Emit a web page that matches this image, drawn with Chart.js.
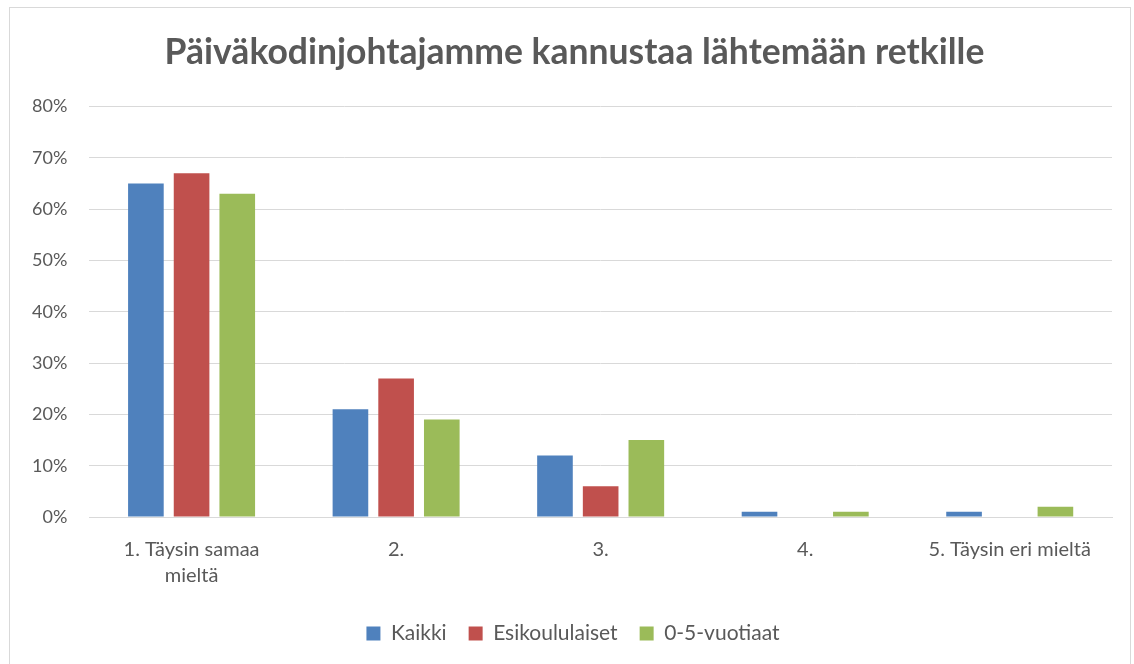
<!DOCTYPE html>
<html>
<head>
<meta charset="utf-8">
<script src="https://cdn.jsdelivr.net/npm/chart.js@4/dist/chart.umd.min.js"></script>
<style>
  body { margin: 0; background: #fff; }
  #box { position: absolute; left: 9px; top: 7px; width: 1122px; height: 670px; border: 1px solid #d9d9d9; box-sizing: border-box; }
</style>
</head>
<body>
<div id="box"><canvas id="chart"></canvas></div>
<script>
const categories = [["1. Täysin samaa", "mieltä"], "2.", "3.", "4.", "5. Täysin eri mieltä"];
const kaikki = [65, 21, 12, 1, 1];
const esikoululaiset = [67, 27, 6, 0, 0];
const vuotiaat = [63, 19, 15, 1, 2];
const yTicks = [0, 10, 20, 30, 40, 50, 60, 70, 80];

const font = "Lato, 'Open Sans', sans-serif";
const grey = "#595959";

// title and legend sit a bit right of the canvas centre in the original
const nudge = {
  id: "nudge",
  afterLayout(chart) {
    if (chart.titleBlock) chart.titleBlock.left += 27;
    if (chart.legend) chart.legend.left += 24;
  }
};

new Chart("chart", {
  type: "bar",
  data: {
    labels: categories,
    datasets: [
      { label: "Kaikki", data: kaikki, backgroundColor: "#4f81bd" },
      { label: "Esikoululaiset", data: esikoululaiset, backgroundColor: "#c0504d" },
      { label: "0-5-vuotiaat", data: vuotiaat, backgroundColor: "#9bbb59" }
    ]
  },
  plugins: [nudge],
  options: {
    responsive: true,
    maintainAspectRatio: false,
    animation: false,
    layout: { padding: { left: 0, right: 18, top: 20, bottom: 22 } },
    datasets: { bar: { categoryPercentage: 0.67, barPercentage: 0.78 } },
    plugins: {
      title: {
        display: true,
        text: "Päiväkodinjohtajamme kannustaa lähtemään retkille",
        color: grey,
        font: { family: font, size: 35.5, weight: "bold" },
        padding: { top: 3, bottom: 33 }
      },
      legend: {
        position: "bottom",
        labels: { color: grey, font: { family: font, size: 21 }, boxWidth: 14, boxHeight: 14, padding: 22 }
      },
      tooltip: { enabled: false }
    },
    scales: {
      x: {
        grid: { display: false },
        border: { color: "#d9d9d9", width: 1 },
        ticks: { color: grey, font: { family: font, size: 20, lineHeight: 1.3 }, maxRotation: 0, padding: 12 }
      },
      y: {
        min: 0,
        max: 80,
        afterBuildTicks: axis => { axis.ticks = yTicks.map(v => ({ value: v })); },
        grid: { color: "#d9d9d9", drawTicks: false },
        border: { display: false },
        ticks: { color: grey, font: { family: font, size: 18 }, padding: 22, callback: v => v + "%" }
      }
    }
  }
});
</script>
</body>
</html>
